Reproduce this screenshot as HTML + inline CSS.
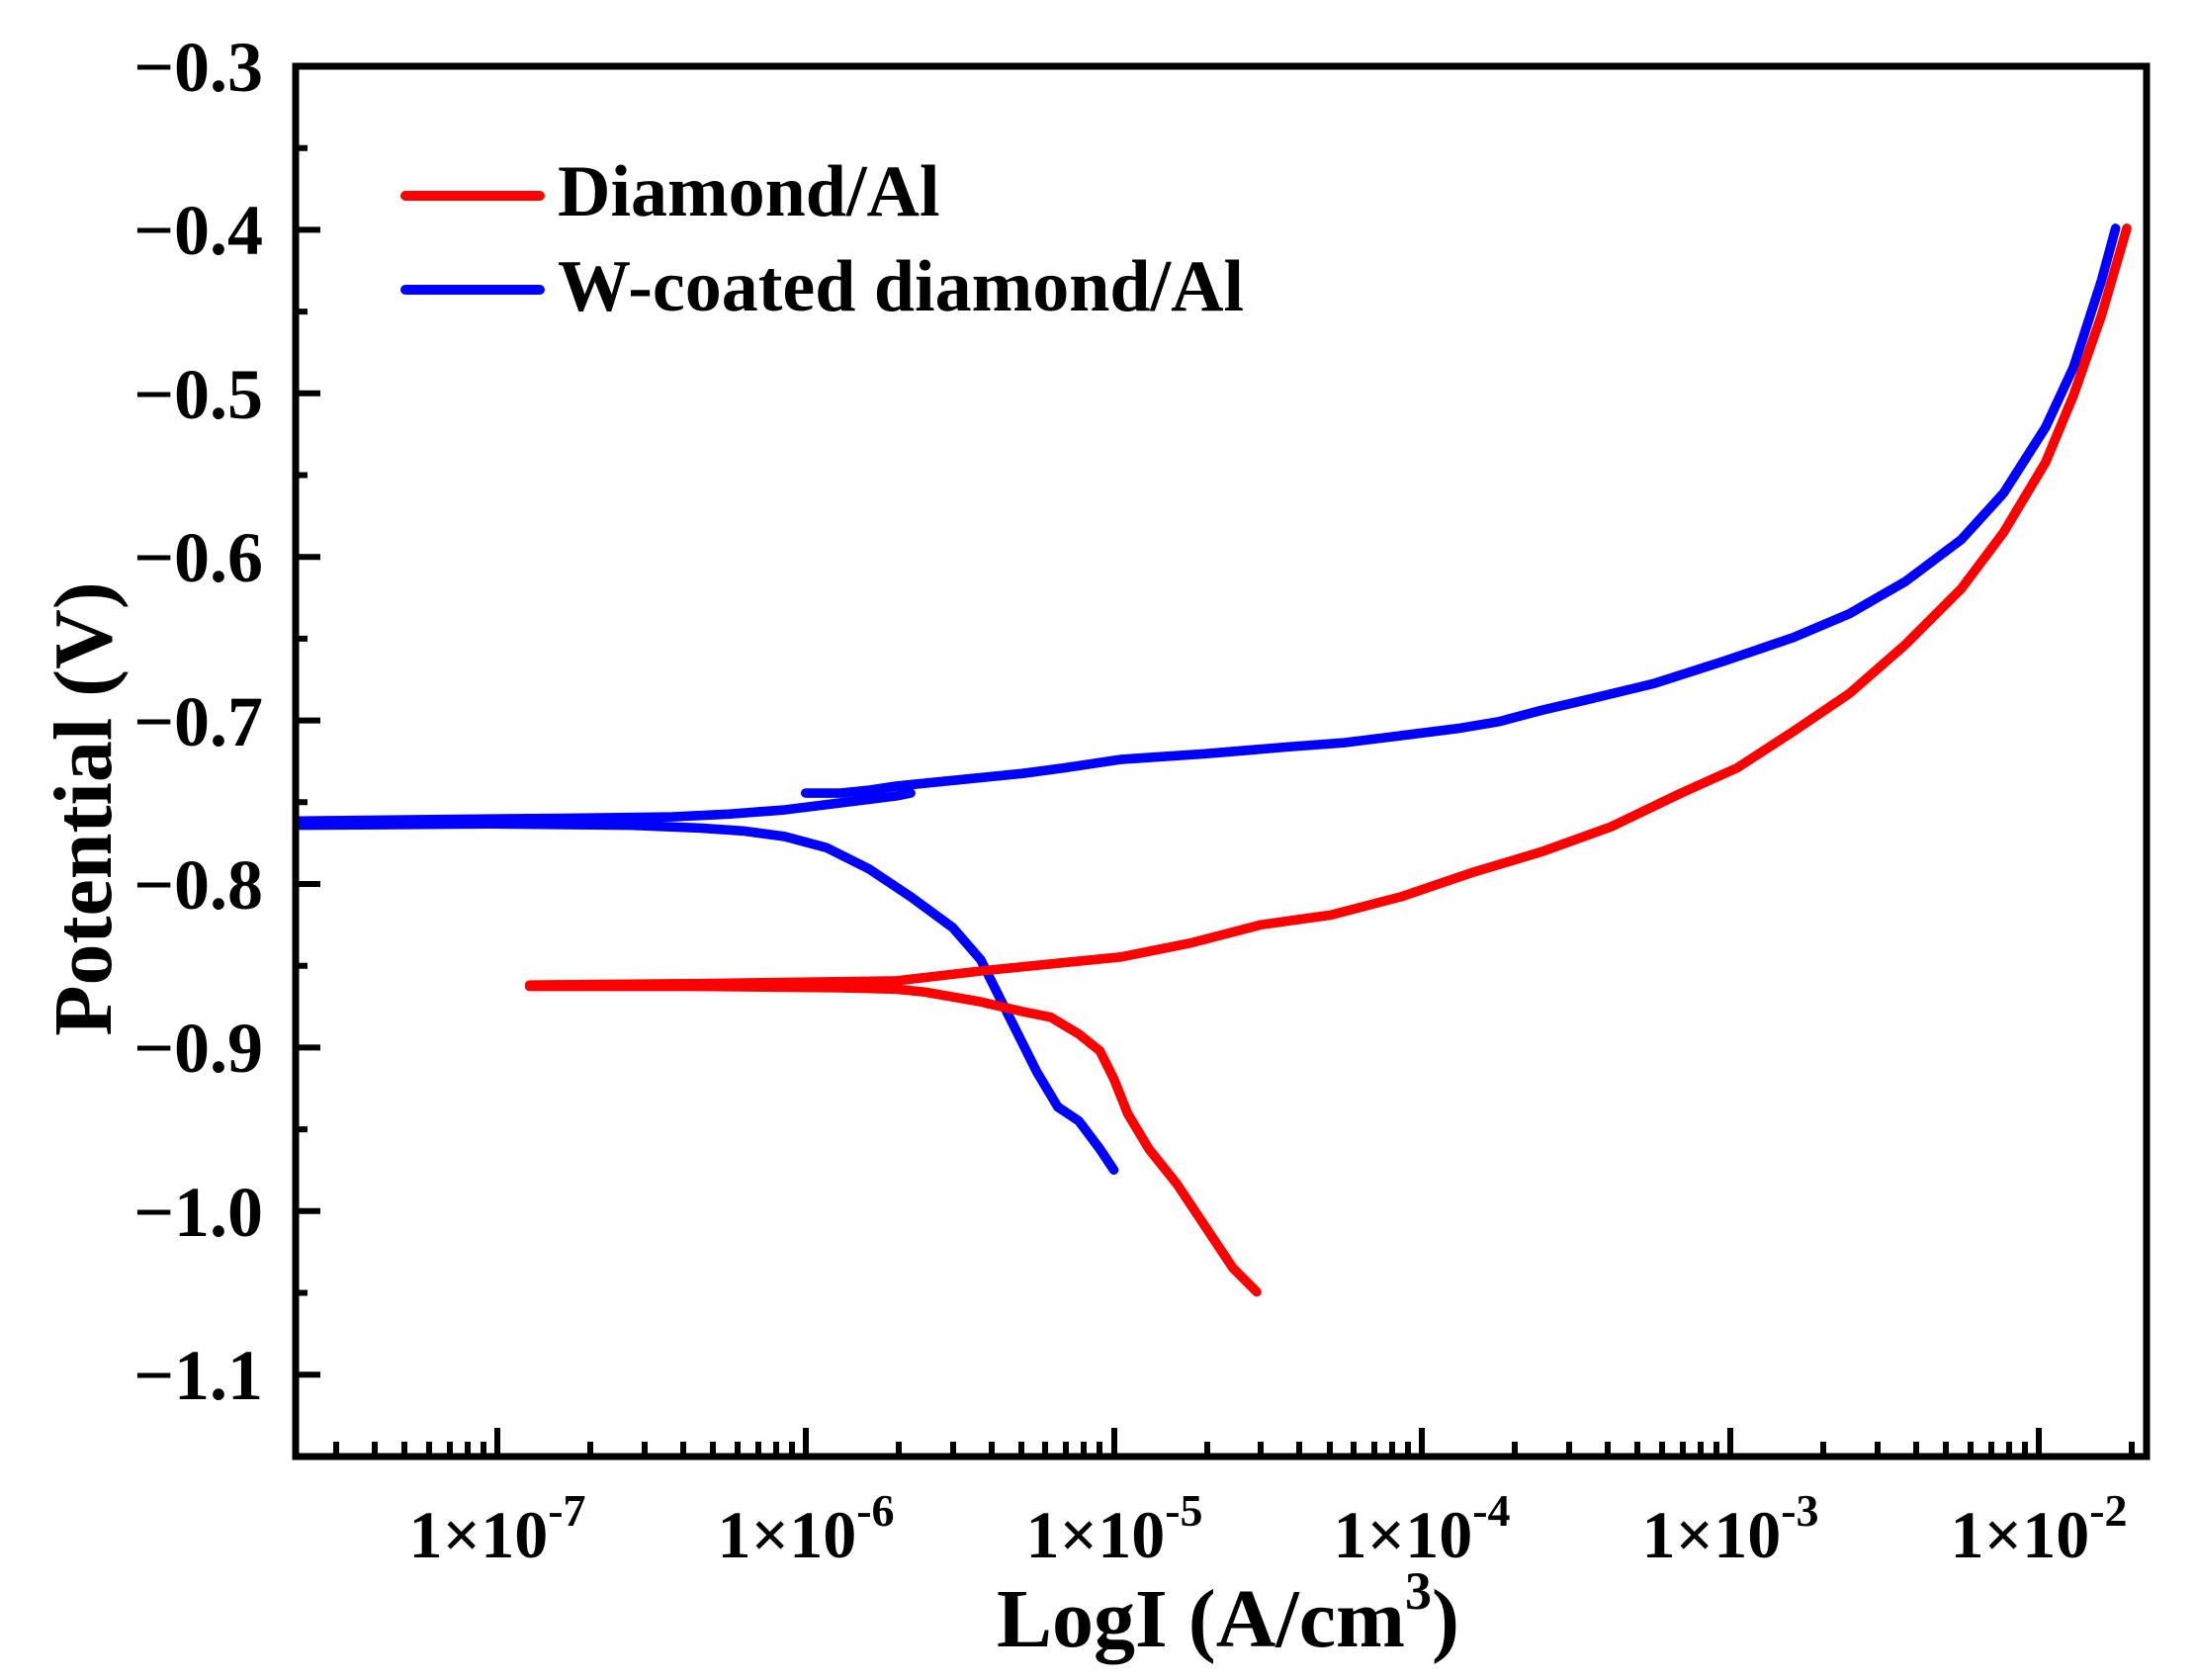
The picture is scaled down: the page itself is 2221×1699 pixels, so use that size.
<!DOCTYPE html>
<html><head><meta charset="utf-8"><style>
html,body{margin:0;padding:0;background:#fff;}
svg{display:block;}
text{font-family:"Liberation Serif",serif;font-weight:bold;fill:#000;}
</style></head><body>
<svg width="2221" height="1699" viewBox="0 0 2221 1699" xmlns="http://www.w3.org/2000/svg">
<g transform="scale(1.417)" fill="none" stroke-linejoin="round" stroke-linecap="round" stroke-width="6.8">
<path stroke="#0000ff" d="M575,566 L600,566 L620,564 L640,561 L700,555 L730,552 L760,548 L800,542 L860,538 L920,533 L960,530 L1000,525 L1040,520 L1070,515 L1100,507 L1130,500 L1180,488 L1230,472 L1280,455 L1320,438 L1360,415 L1400,385 L1430,352 L1460,305 L1480,262 L1500,200 L1510,163"/>
<path stroke="#0000ff" d="M212,586 L300,585 L400,584 L480,583 L520,581 L560,578 L600,573 L640,568 L650,566"/>
<path stroke="#0000ff" d="M212,589 L350,588 L450,589 L500,591 L530,593 L560,597 L590,605 L620,620 L650,640 L680,662 L700,685 L720,725 L740,765 L755,790 L770,800 L785,820 L795,835"/>
<path stroke="#ff0000" d="M378,704 L500,704 L600,705 L640,706 L660,708 L700,715 L730,722 L750,726 L770,738 L785,750 L795,770 L805,795 L820,820 L840,845 L860,875 L880,905 L897,922"/>
<path stroke="#ff0000" d="M378,703 L500,702 L640,700 L700,693 L760,687 L800,683 L850,673 L900,660 L950,653 L1000,640 L1050,623 L1100,608 L1150,590 L1200,566 L1240,548 L1280,522 L1320,495 L1360,460 L1400,420 L1430,380 L1460,330 L1480,282 L1500,225 L1518,163"/>
</g>
<rect x="299" y="67" width="1872" height="1406" fill="none" stroke="#000" stroke-width="7"/>
<g stroke="#000" stroke-width="6">
<path d="M299,67H324M299,232.4H324M299,397.8H324M299,563.2H324M299,728.6H324M299,894H324M299,1059.4H324M299,1224.8H324M299,1390.2H324"/>
<path d="M299,149.7H311M299,315.1H311M299,480.5H311M299,645.9H311M299,811.3H311M299,976.7H311M299,1142.1H311M299,1307.5H311"/>
<path d="M503,1473V1444M815,1473V1444M1127,1473V1444M1438,1473V1444M1750,1473V1444M2062,1473V1444"/>
<path d="M340,1473V1458M379,1473V1458M409,1473V1458M434,1473V1458M455,1473V1458M473,1473V1458M489,1473V1458
M597,1473V1458M652,1473V1458M691,1473V1458M721,1473V1458M746,1473V1458M767,1473V1458M785,1473V1458M801,1473V1458
M909,1473V1458M964,1473V1458M1003,1473V1458M1033,1473V1458M1057,1473V1458M1078,1473V1458M1096,1473V1458M1112,1473V1458
M1221,1473V1458M1275,1473V1458M1314,1473V1458M1345,1473V1458M1369,1473V1458M1390,1473V1458M1408,1473V1458M1424,1473V1458
M1532,1473V1458M1587,1473V1458M1626,1473V1458M1656,1473V1458M1681,1473V1458M1702,1473V1458M1720,1473V1458M1736,1473V1458
M1844,1473V1458M1899,1473V1458M1938,1473V1458M1968,1473V1458M1993,1473V1458M2014,1473V1458M2032,1473V1458M2048,1473V1458
M2156,1473V1458"/>
</g>
<g font-size="72" text-anchor="end">
<text x="266" y="92">−0.3</text>
<text x="266" y="257">−0.4</text>
<text x="266" y="423">−0.5</text>
<text x="266" y="588">−0.6</text>
<text x="266" y="754">−0.7</text>
<text x="266" y="919">−0.8</text>
<text x="266" y="1084">−0.9</text>
<text x="266" y="1250">−1.0</text>
<text x="266" y="1415">−1.1</text>
</g>
<g font-size="68" text-anchor="middle">
<text x="503" y="1575">1×10<tspan dy="-32" font-size="46">-7</tspan></text>
<text x="815" y="1575">1×10<tspan dy="-32" font-size="46">-6</tspan></text>
<text x="1127" y="1575">1×10<tspan dy="-32" font-size="46">-5</tspan></text>
<text x="1438" y="1575">1×10<tspan dy="-32" font-size="46">-4</tspan></text>
<text x="1750" y="1575">1×10<tspan dy="-32" font-size="46">-3</tspan></text>
<text x="2062" y="1575">1×10<tspan dy="-32" font-size="46">-2</tspan></text>
</g>
<text x="1242" y="1665" font-size="84" text-anchor="middle">LogI (A/cm<tspan dy="-38" font-size="54">3</tspan><tspan dy="38">)</tspan></text>
<text transform="translate(112,818) rotate(-90)" font-size="84" text-anchor="middle">Potential (V)</text>
<line x1="410" y1="198" x2="546" y2="198" stroke="#ff0000" stroke-width="10" stroke-linecap="round"/>
<line x1="410" y1="293" x2="546" y2="293" stroke="#0000ff" stroke-width="10" stroke-linecap="round"/>
<text x="564" y="218" font-size="74">Diamond/Al</text>
<text x="564" y="314" font-size="74">W-coated diamond/Al</text>
</svg>
</body></html>
